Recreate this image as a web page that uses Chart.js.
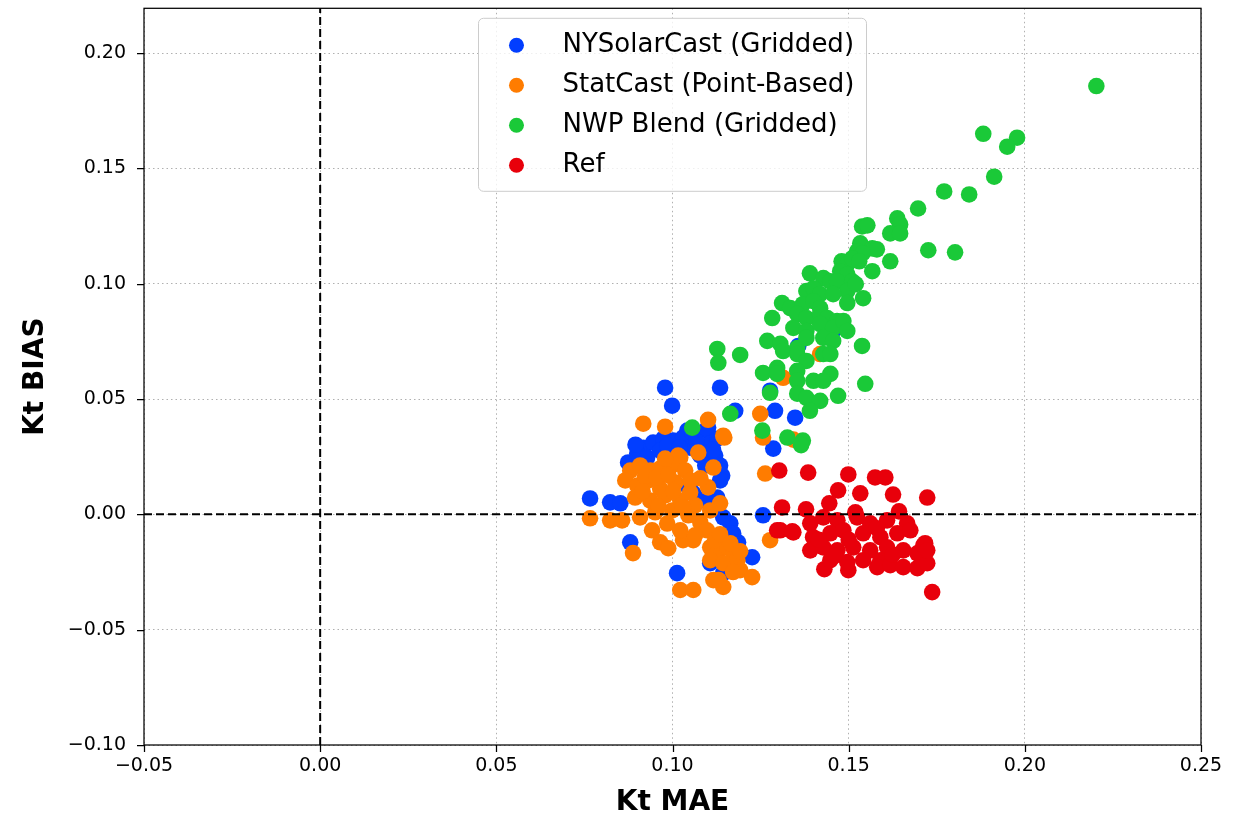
<!DOCTYPE html>
<html>
<head>
<meta charset="utf-8">
<title>Kt MAE vs Kt BIAS</title>
<script src="https://cdn.jsdelivr.net/npm/chart.js@4.4.1/dist/chart.umd.min.js"></script>
<style>
  html, body { margin: 0; padding: 0; background: #fff; }
  #contenedor { width: 1239px; height: 817px; }
</style>
</head>
<body>
<div id="contenedor"><canvas id="grafico"></canvas></div>
<script>
// ====================================================================
// Datos: cada punto es [Kt MAE, Kt BIAS]
// ====================================================================
const nombresSeries = ['NYSolarCast (Gridded)', 'StatCast (Point-Based)', 'NWP Blend (Gridded)', 'Ref'];
const coloresSeries = ['#023eff', '#ff7c00', '#1ac938', '#e8000b'];

const ticksX = [-0.05, 0.00, 0.05, 0.10, 0.15, 0.20, 0.25];
const ticksY = [-0.10, -0.05, 0.00, 0.05, 0.10, 0.15, 0.20];

const nySolarCast = [
    [0.0979, 0.0549], [0.0999, 0.0471], [0.1135, 0.0549], [0.1291, 0.0449], [0.1286, 0.0285],
    [0.1178, 0.0449], [0.1098, 0.0371], [0.0874, 0.0225], [0.0766, 0.0069], [0.0823, 0.0052],
    [0.0852, 0.0048], [0.1141, 0.0168], [0.1107, 0.0060], [0.1127, 0.0073], [0.1257, -0.0004],
    [0.1164, -0.0039], [0.1172, -0.0082], [0.1186, -0.0121], [0.1226, -0.0186], [0.0880, -0.0121],
    [0.1013, -0.0255], [0.1107, -0.0212], [0.1144, -0.0255], [0.1277, 0.0536], [0.1348, 0.0419],
    [0.1357, 0.0730], [0.1456, 0.0795], [0.1101, 0.0376], [0.1042, 0.0363], [0.1050, 0.0134],
    [0.1059, 0.0091], [0.0917, 0.0289], [0.0945, 0.0311], [0.0974, 0.0328], [0.1002, 0.0320],
    [0.1030, 0.0333], [0.1056, 0.0354], [0.1098, 0.0363], [0.1107, 0.0307], [0.1127, 0.0328],
    [0.0900, 0.0264], [0.0928, 0.0246], [0.0965, 0.0276], [0.1008, 0.0268], [0.1050, 0.0289],
    [0.1079, 0.0255], [0.1121, 0.0255], [0.1135, 0.0212], [0.1093, 0.0212], [0.1042, 0.0125],
    [0.1079, 0.0060], [0.1135, 0.0147], [0.1098, 0.0073], [0.1144, -0.0013], [0.1164, -0.0082],
    [0.0895, 0.0302], [0.0985, 0.0298], [0.1020, 0.0290], [0.1068, 0.0318], [0.1115, 0.0280]
];

const statCast = [
    [0.0917, 0.0393], [0.0979, 0.0380], [0.1101, 0.0410], [0.1147, 0.0333], [0.1073, 0.0268],
    [0.1116, 0.0203], [0.1022, 0.0246], [0.1101, 0.0117], [0.1135, 0.0048], [0.1263, 0.0177],
    [0.1249, 0.0436], [0.0766, -0.0017], [0.0823, -0.0026], [0.0857, -0.0026], [0.0908, -0.0013],
    [0.0888, -0.0168], [0.0942, -0.0069], [0.0965, -0.0121], [0.0988, -0.0147], [0.1030, -0.0112],
    [0.1059, -0.0112], [0.1107, -0.0143], [0.1127, -0.0168], [0.1155, -0.0143], [0.1172, -0.0168],
    [0.1107, -0.0199], [0.1144, -0.0212], [0.1184, -0.0199], [0.1192, -0.0242], [0.1172, -0.0250],
    [0.1116, -0.0285], [0.1144, -0.0315], [0.1022, -0.0328], [0.1226, -0.0272], [0.1277, -0.0112],
    [0.1257, 0.0333], [0.1314, 0.0592], [0.1419, 0.0695], [0.1144, 0.0341], [0.1343, 0.0324],
    [0.0880, 0.0190], [0.0908, 0.0212], [0.0937, 0.0190], [0.0965, 0.0199], [0.0999, 0.0212],
    [0.1036, 0.0190], [0.0866, 0.0147], [0.0900, 0.0125], [0.0931, 0.0147], [0.0965, 0.0112],
    [0.1008, 0.0138], [0.1050, 0.0147], [0.0894, 0.0073], [0.0937, 0.0060], [0.0979, 0.0082],
    [0.1022, 0.0060], [0.1064, 0.0039], [0.0951, 0.0009], [0.0999, 0.0017], [0.1045, -0.0004],
    [0.1079, -0.0035], [0.1098, -0.0069], [0.1064, -0.0091], [0.1121, -0.0112], [0.1022, -0.0069],
    [0.1050, 0.0095], [0.1079, 0.0156], [0.1016, 0.0255], [0.0979, 0.0242], [0.1107, 0.0017],
    [0.1135, -0.0086], [0.1164, -0.0125], [0.1192, -0.0160], [0.1131, -0.0285], [0.1059, -0.0328],
    [0.0922, 0.0165], [0.0955, 0.0160], [0.0988, 0.0170], [0.0915, 0.0100], [0.0960, 0.0035],
    [0.1002, 0.0100], [0.1030, 0.0030], [0.0985, -0.0040]
];

const nwpBlend = [
    [0.2203, 0.1857], [0.1882, 0.1650], [0.1978, 0.1633], [0.1950, 0.1594], [0.1913, 0.1464],
    [0.1771, 0.1400], [0.1842, 0.1387], [0.1697, 0.1326], [0.1638, 0.1283], [0.1646, 0.1257],
    [0.1538, 0.1248], [0.1553, 0.1253], [0.1618, 0.1218], [0.1646, 0.1218], [0.1726, 0.1145],
    [0.1802, 0.1136], [0.1533, 0.1175], [0.1567, 0.1153], [0.1580, 0.1149], [0.1524, 0.1140],
    [0.1540, 0.1132], [0.1618, 0.1097], [0.1567, 0.1054], [0.1480, 0.1097], [0.1496, 0.1084],
    [0.1510, 0.1110], [0.1530, 0.1097], [0.1476, 0.1054], [0.1496, 0.1040], [0.1390, 0.1045],
    [0.1428, 0.1024], [0.1448, 0.1010], [0.1467, 0.1010], [0.1510, 0.1010], [0.1496, 0.0968],
    [0.1520, 0.0998], [0.1380, 0.0968], [0.1400, 0.0980], [0.1419, 0.0955], [0.1456, 0.0955],
    [0.1541, 0.0937], [0.1496, 0.0916], [0.1311, 0.0916], [0.1334, 0.0894], [0.1370, 0.0911],
    [0.1400, 0.0924], [0.1419, 0.0894], [0.1354, 0.0868], [0.1380, 0.0851], [0.1419, 0.0868],
    [0.1439, 0.0851], [0.1467, 0.0838], [0.1283, 0.0851], [0.1343, 0.0808], [0.1380, 0.0795],
    [0.1419, 0.0825], [0.1456, 0.0808], [0.1485, 0.0838], [0.1496, 0.0795], [0.1269, 0.0752],
    [0.1306, 0.0739], [0.1354, 0.0721], [0.1380, 0.0765], [0.1428, 0.0765], [0.1456, 0.0752],
    [0.1538, 0.0730], [0.1314, 0.0708], [0.1354, 0.0695], [0.1380, 0.0665], [0.1428, 0.0695],
    [0.1448, 0.0695], [0.1127, 0.0717], [0.1130, 0.0657], [0.1192, 0.0691], [0.1257, 0.0613],
    [0.1297, 0.0635], [0.1297, 0.0609], [0.1354, 0.0622], [0.1354, 0.0579], [0.1400, 0.0579],
    [0.1448, 0.0609], [0.1428, 0.0579], [0.1547, 0.0566], [0.1277, 0.0527], [0.1354, 0.0523],
    [0.1380, 0.0505], [0.1419, 0.0492], [0.1470, 0.0514], [0.1390, 0.0449], [0.1164, 0.0436],
    [0.1056, 0.0376], [0.1255, 0.0363], [0.1326, 0.0333], [0.1370, 0.0320], [0.1365, 0.0300]
];

const ref = [
    [0.1303, 0.0190], [0.1385, 0.0181], [0.1499, 0.0173], [0.1575, 0.0160], [0.1604, 0.0160],
    [0.1470, 0.0104], [0.1533, 0.0091], [0.1626, 0.0086], [0.1723, 0.0073], [0.1311, 0.0030],
    [0.1379, 0.0022], [0.1445, 0.0048], [0.1519, 0.0009], [0.1643, 0.0013], [0.1431, -0.0238],
    [0.1499, -0.0242], [0.1737, -0.0337], [0.1306, -0.0069], [0.1343, -0.0078], [0.1391, -0.0039],
    [0.1428, -0.0013], [0.1468, -0.0026], [0.1524, -0.0013], [0.1561, -0.0039], [0.1609, -0.0026],
    [0.1666, -0.0039], [0.1399, -0.0099], [0.1448, -0.0082], [0.1485, -0.0069], [0.1541, -0.0082],
    [0.1590, -0.0099], [0.1638, -0.0082], [0.1675, -0.0069], [0.1391, -0.0156], [0.1428, -0.0143],
    [0.1468, -0.0156], [0.1513, -0.0143], [0.1561, -0.0156], [0.1609, -0.0143], [0.1655, -0.0156],
    [0.1717, -0.0125], [0.1695, -0.0169], [0.1448, -0.0199], [0.1496, -0.0207], [0.1541, -0.0199],
    [0.1590, -0.0199], [0.1581, -0.0229], [0.1618, -0.0220], [0.1655, -0.0229], [0.1695, -0.0233],
    [0.1723, -0.0212], [0.1712, -0.0134], [0.1723, -0.0156], [0.1297, -0.0069], [0.1340, -0.0074],
    [0.1415, -0.0110], [0.1500, -0.0110], [0.1580, -0.0060], [0.1625, -0.0175], [0.1460, -0.0180]
];

const seriesDatos = [nySolarCast, statCast, nwpBlend, ref];

// Formato de ticks con signo menos tipográfico
function formatoTick(valor) {
    const v = Math.round(valor * 100) / 100;
    return (v < 0 ? '\u2212' : '') + Math.abs(v).toFixed(2);
}

const FUENTE = '"DejaVu Sans", "Liberation Sans", sans-serif';

// Marco, marcas de ticks, líneas de cero y leyenda dentro del área
const pluginMarco = {
    id: 'pluginMarco',
    afterDatasetsDraw(chart) {
        const { ctx, chartArea: a, scales: { x, y } } = chart;
        const x0 = x.getPixelForValue(0);
        const y0 = y.getPixelForValue(0);
        ctx.save();
        ctx.strokeStyle = '#000';
        ctx.lineWidth = 2;
        ctx.setLineDash([8, 4]);
        ctx.beginPath();
        ctx.moveTo(x0, a.bottom);
        ctx.lineTo(x0, a.top);
        ctx.moveTo(a.left, y0);
        ctx.lineTo(a.right, y0);
        ctx.stroke();
        ctx.restore();
    },
    afterDraw(chart) {
        const { ctx, chartArea: a, scales: { x, y } } = chart;
        ctx.save();
        ctx.strokeStyle = '#000';
        ctx.lineWidth = 1.25;
        ctx.setLineDash([]);

        // marcas de ticks hacia fuera
        ctx.beginPath();
        ticksX.forEach(v => {
            const px = Math.round(x.getPixelForValue(v)) + 0.5;
            ctx.moveTo(px, a.bottom);
            ctx.lineTo(px, a.bottom + 7);
        });
        ticksY.forEach(v => {
            const py = Math.round(y.getPixelForValue(v)) + 0.5;
            ctx.moveTo(a.left, py);
            ctx.lineTo(a.left - 7, py);
        });
        ctx.stroke();

        // leyenda
        ctx.font = '26px ' + FUENTE;
        const anchoTexto = Math.max(...nombresSeries.map(n => ctx.measureText(n).width));
        const ancho = 82 + anchoTexto + 14;
        const alto = 173;
        const lx = (a.left + a.right) / 2 - ancho / 2;
        const ly = a.top + 10;
        ctx.beginPath();
        ctx.roundRect(lx, ly, ancho, alto, 5);
        ctx.fillStyle = 'rgba(255,255,255,0.8)';
        ctx.fill();
        ctx.strokeStyle = '#cccccc';
        ctx.lineWidth = 1;
        ctx.stroke();
        ctx.textBaseline = 'middle';
        ctx.textAlign = 'left';
        nombresSeries.forEach((nombre, i) => {
            const cy = ly + 27 + i * 40;
            ctx.beginPath();
            ctx.arc(lx + 38, cy, 7.5, 0, Math.PI * 2);
            ctx.fillStyle = coloresSeries[i];
            ctx.fill();
            ctx.fillStyle = '#000';
            ctx.fillText(nombre, lx + 84, cy);
        });

        // marco del área de trazado
        ctx.strokeStyle = '#000';
        ctx.lineWidth = 1.25;
        ctx.strokeRect(a.left, a.top, a.right - a.left, a.bottom - a.top);
        ctx.restore();
    }
};

function configEje(ticks, min, max, titulo, esX) {
    return {
        type: 'linear',
        min: min,
        max: max,
        afterBuildTicks: escala => { escala.ticks = ticks.map(v => ({ value: v })); },
        afterFit: escala => {
            // tamaño fijo del eje y sin relleno extra por etiquetas en los bordes
            if (esX) { escala.height = 72; } else { escala.width = 144; }
            escala.paddingTop = 0;
            escala.paddingBottom = 0;
            escala.paddingLeft = 0;
            escala.paddingRight = 0;
        },
        ticks: {
            callback: formatoTick,
            color: '#000',
            font: { family: FUENTE, size: 19 },
            padding: esX ? 10 : 18,
            autoSkip: false,
            maxRotation: 0
        },
        grid: {
            color: '#b0b0b0',
            lineWidth: 1,
            drawTicks: false
        },
        border: { display: false, dash: [1.5, 3] },
        title: {
            display: true,
            text: titulo,
            color: '#000',
            font: { family: FUENTE, size: 28, weight: 'bold', lineHeight: 1 },
            padding: esX ? { top: 0, bottom: 0 } : { top: 22, bottom: 0 }
        }
    };
}

const ctx = document.getElementById('grafico').getContext('2d');

new Chart(ctx, {
    type: 'scatter',
    data: {
        datasets: seriesDatos.map((serie, i) => ({
            label: nombresSeries[i],
            data: serie.map(p => ({ x: p[0], y: p[1] })),
            backgroundColor: coloresSeries[i],
            borderColor: coloresSeries[i],
            borderWidth: 0,
            pointRadius: 8.3,
            pointHoverRadius: 8.3,
            // la primera serie queda debajo, Ref encima
            order: seriesDatos.length - i
        }))
    },
    options: {
        responsive: true,
        maintainAspectRatio: false,
        animation: false,
        layout: { padding: { top: 6, right: 38, bottom: 0, left: 0 } },
        plugins: {
            legend: { display: false },
            tooltip: { enabled: false }
        },
        scales: {
            x: configEje(ticksX, -0.05, 0.25, 'Kt MAE', true),
            y: configEje(ticksY, -0.10, 0.2194, 'Kt BIAS', false)
        }
    },
    plugins: [pluginMarco]
});
</script>
</body>
</html>
